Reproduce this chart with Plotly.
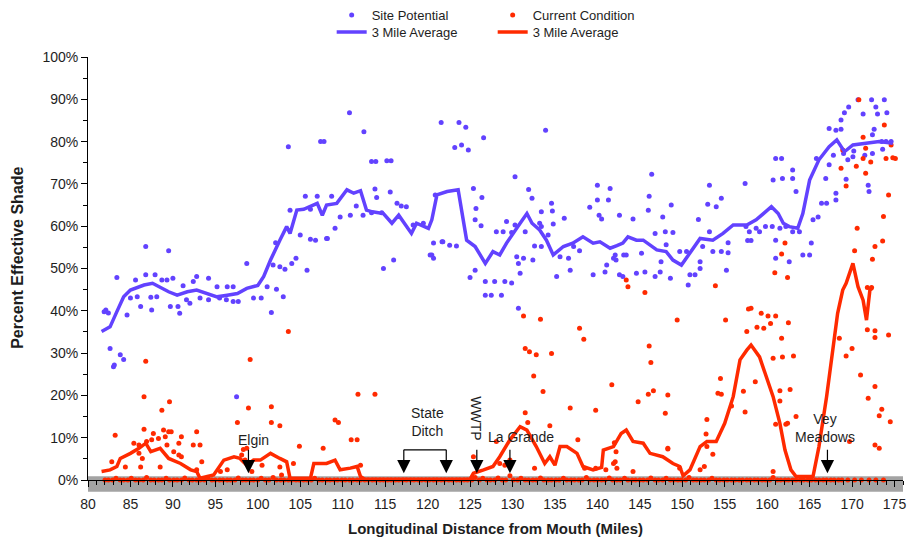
import plotly.graph_objects as go

# ---------------- data ----------------
# Site Potential (blue scatter points): mile, percent
sp_miles = [82.1, 81.9, 82.4, 82.6, 83.0, 83.1, 83.8, 84.2, 83.4, 84.6, 85.0, 85.8, 85.6, 86.8, 87.9, 86.8, 89.5,
            86.2, 87.4, 88.1, 87.5, 89.7, 90.6, 90.8, 88.7, 89.3, 90.0, 91.2, 91.6, 92.0, 92.8, 92.4, 94.2, 93.2,
            94.2, 95.2, 96.4, 97.1, 95.5, 96.3, 97.1, 97.7, 98.7, 99.5, 100.4, 101.1, 101.6, 102.2, 103.0, 101.8,
            102.6, 103.2, 104.0, 104.5, 105.8, 105.0, 106.2, 108.1, 109.1, 103.8, 109.7, 110.9, 112.4, 111.6, 106.2,
            103.6, 107.4, 107.8, 110.8, 112.5, 113.4, 113.9, 115.2, 115.7, 121.6, 105.6, 107.0, 108.7, 106.8, 102.1,
            108.2, 113.8, 114.0, 115.6, 113.4, 114.6, 116.4, 117.5, 116.0, 114.8, 120.5, 121.8, 118.3, 119.5, 120.9,
            123.7, 124.5, 126.6, 124.0, 124.8, 123.2, 133.9, 116.9, 125.4, 126.4, 125.7, 125.6, 126.3, 130.3, 131.9,
            132.3, 133.4, 134.6, 134.7, 140.0, 141.5, 140.0, 141.3, 139.1, 140.2, 140.5, 142.6, 144.2, 136.1, 129.3,
            130.3, 133.2, 133.4, 134.8, 120.7, 121.7, 122.6, 123.4, 128.1, 128.9, 129.9, 131.5, 134.2, 132.6, 133.4,
            120.3, 120.7, 125.6, 125.0, 126.8, 127.9, 129.1, 129.9, 126.8, 127.5, 128.7, 130.5, 131.3, 130.7, 130.9,
            132.4, 135.6, 136.6, 137.2, 137.9, 135.2, 136.8, 139.5, 140.9, 141.1, 141.9, 142.1, 143.1, 142.6, 144.6,
            130.7, 146.4, 146.1, 146.0, 148.7, 147.7, 146.8, 148.0, 148.9, 145.2, 143.4, 142.2, 143.0, 145.6, 146.8,
            147.4, 147.5, 148.1, 149.7, 150.5, 148.6, 150.9, 151.5, 152.1, 150.7, 151.9, 153.2, 153.0, 154.0, 154.6,
            152.4, 153.2, 153.6, 154.6, 155.4, 155.4, 155.2, 152.1, 157.4, 157.7, 158.1, 161.0, 161.7, 160.7, 161.8,
            163.0, 163.0, 163.4, 161.0, 161.0, 162.6, 164.2, 165.0, 165.2, 165.4, 166.0, 166.4, 167.0, 168.1, 168.1,
            165.8, 167.3, 166.9, 167.3, 168.1, 168.7, 168.7, 169.1, 169.6, 170.7, 172.3, 173.8, 171.3, 172.8, 173.0,
            174.1, 172.6, 172.4, 167.8, 169.0, 170.2, 171.5, 172.4, 169.5, 170.1, 169.3, 171.9, 172.0, 173.5, 174.0,
            174.6, 173.6, 97.5, 157.5, 158.7, 159.8, 160.6, 157.9, 159.1, 161.5, 162.2, 163.0, 163.8]
sp_pct = [40.2, 39.8, 39.5, 31.1, 26.8, 27.2, 29.6, 28.5, 47.9, 39.0, 43.0, 43.3, 47.3, 48.5, 48.5, 55.2, 54.2,
          41.0, 43.2, 43.3, 40.2, 41.0, 41.0, 39.4, 47.3, 47.3, 47.7, 45.9, 42.6, 41.8, 48.1, 46.9, 47.7, 43.0,
          42.6, 45.7, 45.7, 45.7, 43.0, 42.6, 42.2, 42.2, 51.2, 43.0, 43.0, 45.7, 39.6, 45.1, 43.3, 50.8,
          50.4, 49.8, 51.2, 52.4, 49.6, 57.9, 56.9, 57.1, 59.5, 63.8, 62.2, 62.6, 62.6, 64.8, 64.0,
          78.8, 80.0, 80.0, 86.8, 82.3, 75.3, 75.3, 75.5, 75.5, 84.5, 67.1, 67.1, 67.1, 56.7, 56.1,
          57.1, 68.8, 66.8, 68.1, 63.2, 63.2, 65.4, 64.6, 52.0, 50.0, 53.2, 56.3, 60.3, 60.7, 67.4,
          84.5, 83.4, 80.9, 79.2, 78.0, 78.6, 82.7, 64.8, 68.9, 66.8, 64.2, 61.5, 60.1, 71.7, 68.7,
          66.6, 63.4, 65.4, 63.6, 69.7, 68.9, 66.2, 66.2, 64.5, 62.6, 61.7, 62.6, 61.7, 61.9, 61.1,
          60.3, 60.7, 59.9, 60.5, 56.0, 56.3, 55.5, 55.3, 58.7, 58.7, 58.5, 58.7, 57.9, 55.3, 55.2,
          53.2, 52.4, 49.6, 47.9, 46.9, 46.9, 46.9, 46.6, 43.7, 43.7, 43.7, 52.8, 52.4, 51.2, 48.9,
          52.0, 52.8, 52.4, 55.2, 54.2, 48.1, 49.6, 48.5, 49.2, 50.8, 52.4, 53.2, 53.2, 48.5, 48.9,
          40.6, 72.3, 67.1, 63.8, 65.0, 62.2, 58.3, 58.7, 58.5, 53.6, 53.2, 52.0, 48.1, 49.2, 48.1,
          49.2, 51.6, 55.6, 54.0, 54.0, 47.7, 48.5, 48.5, 51.6, 46.1, 61.6, 69.7, 65.2, 64.6, 66.6,
          55.2, 58.7, 54.0, 54.0, 53.7, 56.1, 49.6, 50.0, 70.1, 56.6, 56.6, 76.0, 76.0, 70.9, 71.3,
          73.3, 71.3, 68.2, 56.7, 52.4, 51.6, 53.2, 53.2, 56.0, 61.5, 62.2, 65.4, 65.4, 67.8, 66.2,
          76.0, 74.5, 71.3, 83.1, 82.7, 82.9, 85.1, 86.8, 88.2, 89.9, 89.9, 89.9, 86.5, 88.2, 86.5,
          86.8, 82.9, 81.6, 76.8, 77.2, 77.8, 76.8, 77.2, 75.7, 76.4, 71.1, 69.7, 68.2, 80.0, 80.0,
          80.0, 78.2, 19.7, 59.9, 59.5, 59.9, 59.9, 58.7, 58.7, 59.5, 59.9, 58.7, 58.7]

# Site Potential 3 mile average (blue line)
spa_miles = [81.6, 82.6, 83.4, 84.2, 85.0, 86.6, 87.6, 88.3, 89.5, 90.5, 91.7, 92.8, 94.0, 95.2, 96.4, 97.6, 98.7,
             100.0, 100.7, 101.5, 102.6, 103.4, 103.8, 104.6, 105.4, 106.2, 107.0, 107.6, 108.1, 109.3, 110.5,
             111.3, 112.1, 112.8, 113.5, 114.8, 115.8, 116.6, 117.3, 118.1, 118.7, 120.1, 120.5, 121.1, 122.3,
             123.6, 124.6, 125.6, 126.8, 127.7, 128.5, 129.3, 130.9, 131.7, 132.3, 133.2, 134.0, 134.8, 136.0,
             137.1, 138.3, 139.5, 140.3, 141.5, 142.3, 143.0, 143.6, 144.6, 145.4, 147.0, 148.1, 148.9, 149.9,
             150.9, 152.1, 153.6, 154.8, 156.0, 157.6, 158.7, 159.5, 160.5, 161.3, 161.9, 162.6, 163.6, 164.2,
             165.0, 166.1, 167.3, 168.2, 169.1, 170.1, 171.7, 173.2, 174.8]
spa_pct = [35.1, 36.2, 39.8, 43.3, 44.9, 46.1, 46.5, 45.7, 44.5, 43.7, 44.5, 44.9, 44.1, 43.3, 43.7, 44.1, 45.3,
           46.0, 48.1, 52.0, 56.7, 59.9, 58.3, 63.8, 64.0, 64.6, 65.4, 62.6, 65.0, 65.4, 68.6,
           67.8, 68.4, 63.8, 63.4, 63.0, 60.7, 62.6, 60.5, 58.3, 60.7, 59.5, 61.5, 67.4, 68.2,
           68.6, 56.7, 55.2, 51.2, 54.0, 53.2, 56.0, 60.7, 63.0, 60.7, 59.1, 56.7, 53.2, 55.2,
           56.0, 57.5, 56.0, 56.3, 54.8, 55.4, 56.0, 57.5, 56.7, 56.7, 54.4, 54.0, 52.0, 50.8,
           53.6, 57.1, 56.7, 58.3, 60.3, 60.3, 61.5, 63.0, 64.6, 63.0, 60.7, 59.9, 59.5, 63.0,
           70.9, 75.7, 78.8, 80.4, 77.6, 79.2, 79.6, 80.0, 79.6]

# Current Condition (red scatter points above zero)
cc_miles = [83.2, 86.6, 88.7, 89.6, 87.7, 88.9, 89.5, 89.8, 88.3, 89.1, 86.9, 87.5, 85.4, 86.0, 89.3, 90.7, 91.0,
            92.8, 92.4, 93.2, 90.1, 90.7, 86.0, 86.4, 82.8, 84.4, 86.2, 88.5, 91.0, 93.4, 92.8, 97.6, 98.9, 101.6,
            101.6, 102.6, 98.3, 98.7, 98.1, 98.5, 99.3, 95.6, 96.4, 100.5, 102.6, 102.8, 104.2, 104.9, 107.7, 109.1,
            109.5, 111.0, 111.7, 112.1, 111.8, 113.8, 86.6, 86.8, 99.1, 103.6, 131.3, 133.3, 137.9, 138.4, 149.4,
            131.5, 132.0, 132.8, 134.6, 146.1, 146.3, 132.5, 133.6, 141.7, 146.0, 146.6, 144.8, 148.3, 136.8, 139.8,
            148.0, 131.5, 131.8, 134.4, 137.7, 128.1, 148.3, 125.4, 128.5, 129.1, 129.7, 132.6, 141.9, 142.3, 138.5,
            139.8, 149.7, 143.4, 143.6, 161.7, 160.9, 162.4, 170.3, 172.4, 145.6, 153.9, 155.1, 158.1, 157.8, 159.3,
            160.1, 161.0, 160.4, 157.6, 158.8, 159.6, 162.5, 161.7, 160.7, 161.8, 163.1, 158.6, 154.5, 154.2, 154.6,
            157.2, 161.5, 162.7, 161.5, 155.8, 157.4, 152.9, 161.0, 162.2, 163.4, 152.8, 153.6, 148.3, 142.1, 141.0,
            152.1, 152.6, 160.7, 144.2, 168.5, 170.0, 169.3, 171.8, 172.7, 172.7, 174.3, 171.0, 172.7, 171.9, 173.5,
            173.2, 174.5, 172.7, 173.2, 170.8, 173.8, 171.3, 171.6, 168.9, 171.3, 172.2, 174.0, 174.8, 175.1, 174.6,
            170.5, 168.7, 171.6, 169.3, 174.3, 170.6, 173.7, 172.7, 173.6, 162.1, 171.8, 172.3, 169.7, 142.0, 142.2,
            162.4, 152.9]
cc_pct = [10.6, 12.0, 16.5, 18.5, 11.0, 11.8, 11.4, 11.4, 9.8, 10.2, 9.1, 9.5, 8.7, 8.3, 8.3, 8.7, 10.2,
          11.4, 8.3, 8.3, 6.7, 5.9, 6.3, 5.1, 4.3, 3.1, 3.1, 3.1, 5.5, 4.3, 2.4, 13.6, 17.0, 17.3,
          13.6, 12.8, 7.2, 7.5, 5.9, 4.7, 2.0, 2.0, 2.4, 3.5, 3.1, 1.2, 3.9, 8.0, 7.5, 14.2,
          13.6, 9.5, 9.5, 3.5, 20.3, 20.3, 19.7, 28.1, 28.5, 35.1, 38.8, 38.0, 35.9, 33.3, 37.8,
          31.1, 30.3, 29.6, 29.9, 31.7, 27.8, 24.6, 20.9, 22.5, 20.3, 21.1, 18.5, 20.1, 17.0, 16.5,
          15.8, 15.9, 13.6, 12.8, 9.5, 9.1, 7.5, 5.5, 3.9, 3.5, 4.7, 2.8, 3.9, 2.8, 2.8,
          2.8, 2.8, 47.3, 45.7, 53.4, 49.0, 47.9, 54.2, 52.2, 44.3, 45.9, 37.8, 40.6, 40.4, 39.4,
          38.8, 38.8, 37.0, 35.1, 36.1, 35.9, 37.2, 33.5, 28.8, 29.1, 29.3, 23.2, 24.0, 20.5, 20.3,
          21.0, 21.1, 21.4, 18.7, 17.5, 16.1, 14.3, 13.2, 13.2, 15.0, 10.9, 6.1, 7.3, 4.3, 2.4,
          2.4, 3.2, 2.0, 2.0, 33.5, 31.1, 29.3, 35.5, 35.3, 33.7, 34.3, 24.8, 22.1, 19.3, 16.7,
          15.2, 13.8, 8.3, 7.5, 89.9, 83.9, 81.0, 78.4, 78.0, 76.0, 75.2, 76.0, 76.2, 76.0, 79.2,
          74.2, 73.7, 72.5, 69.5, 67.4, 59.5, 62.3, 55.2, 56.5, 56.0, 45.5, 45.5, 9.1, 8.8, 6.7,
          13.4, 7.9]

# Current Condition points lying on / just above zero
cz_miles = [82.0, 82.4, 82.9, 83.3, 83.8, 84.2, 84.7, 85.1, 85.6, 86.0, 86.5, 86.9, 87.4, 87.8, 88.3, 88.7, 89.2,
            89.6, 90.1, 90.5, 91.0, 91.4, 91.9, 92.3, 92.8, 93.2, 93.7, 94.1, 94.6, 95.0, 95.5, 95.9, 96.4, 96.8,
            97.3, 97.7, 98.2, 98.6, 99.1, 99.5, 100.0, 100.4, 100.9, 101.3, 101.8, 102.2, 102.7, 103.1, 103.6,
            104.0, 104.5, 104.9, 105.4, 105.8, 106.3, 106.7, 107.2, 107.6, 108.1, 108.5, 109.0, 109.4, 109.9,
            110.3, 110.8, 111.2, 111.7, 112.1, 112.6, 113.0, 113.5, 113.9, 114.4, 114.8, 115.3, 115.7, 116.2,
            116.6, 117.1, 117.5, 118.0, 118.4, 118.9, 119.3, 119.8, 120.2, 120.7, 121.1, 121.6, 122.0, 122.5,
            122.9, 123.4, 123.8, 124.3, 124.7, 125.2, 125.6, 126.1, 126.5, 127.0, 127.4, 127.9, 128.3, 128.8,
            129.2, 129.7, 130.1, 130.6, 131.0, 131.5, 131.9, 132.4, 132.8, 133.3, 133.7, 134.2, 134.6, 135.1,
            135.5, 136.0, 136.4, 136.9, 137.3, 137.8, 138.2, 138.7, 139.1, 139.6, 140.0, 140.5, 140.9, 141.4,
            141.8, 142.3, 142.7, 143.2, 143.6, 144.1, 144.5, 145.0, 145.4, 145.9, 146.3, 146.8, 147.2, 147.7,
            148.1, 148.6, 149.0, 149.5, 149.9, 150.4, 150.8, 151.3, 151.7, 152.2, 152.6, 153.1, 153.5, 154.0,
            154.4, 154.9, 155.3, 155.8, 156.2, 156.7, 157.1, 157.6, 158.0, 158.5, 158.9, 159.4, 159.8, 160.3,
            160.7, 161.2, 161.6, 162.1, 162.5, 163.0, 163.4, 163.9, 164.3, 164.8, 165.2, 165.7, 166.1, 166.6,
            167.0, 167.5, 167.9, 168.4, 168.8, 169.5, 170.3, 171.1, 172.0, 172.8, 173.7]
cz_pct = [0.0, 0.0, 0.0, 0.4, 0.0, 0.0, 0.0, 0.4, 0.0, 0.0, 0.0, 0.6, 0.0, 0.0, 0.0, 0.0, 0.4,
          0.0, 0.0, 0.0, 0.0, 0.5, 0.0, 0.0, 0.0, 0.0, 0.0, 0.4, 0.0, 0.0, 0.0, 0.0, 0.0, 0.0,
          0.0, 0.5, 0.0, 0.0, 0.0, 0.0, 0.0, 0.4, 0.0, 0.0, 0.6, 0.0, 0.0, 0.0, 0.0,
          0.0, 0.0, 0.0, 0.0, 0.0, 0.0, 0.4, 0.0, 0.0, 0.0, 0.0, 0.0, 0.0, 0.0,
          0.0, 0.0, 0.0, 0.0, 0.0, 0.0, 0.0, 0.0, 0.0, 0.0, 0.0, 0.0, 0.0, 0.0,
          0.0, 0.0, 0.0, 0.0, 0.0, 0.0, 0.0, 0.0, 0.0, 0.0, 0.0, 0.0, 0.0, 0.0,
          0.0, 0.0, 0.0, 0.0, 0.0, 0.0, 0.6, 0.0, 0.4, 0.0, 0.0, 0.0, 0.5, 0.0,
          0.0, 1.0, 0.0, 0.0, 0.4, 0.0, 0.0, 0.0, 0.0, 0.5, 0.0, 0.0, 0.0, 0.0,
          0.0, 0.4, 0.0, 0.0, 0.0, 0.0, 0.0, 0.6, 0.0, 0.0, 0.0, 0.0, 0.0, 0.5,
          0.0, 0.0, 0.0, 0.4, 0.0, 0.0, 0.0, 0.0, 0.0, 0.0, 0.5, 0.0, 0.0, 0.0,
          0.4, 0.0, 0.0, 0.0, 0.0, 0.0, 0.6, 0.0, 0.0, 0.0, 0.0, 0.0, 0.4, 0.0,
          0.0, 0.0, 0.0, 0.0, 0.0, 0.0, 0.0, 0.0, 0.0, 0.0, 0.0, 0.0, 0.0, 0.0,
          0.6, 0.0, 0.0, 0.0, 0.0, 0.0, 0.0, 0.0, 0.0, 0.0, 0.0, 0.0, 0.0, 0.0,
          0.0, 0.0, 0.0, 0.0, 0.0, 0.0, 0.0, 0.0, 0.0, 0.0, 0.0]

# Current Condition 3 mile average (red line)
cca_miles = [81.6, 82.6, 83.4, 83.8, 85.0, 86.0, 86.8, 87.4, 88.5, 89.5, 90.9, 92.1, 92.8, 93.2, 94.8, 96.0, 97.2,
             97.9, 98.7, 99.5, 100.3, 101.5, 102.6, 103.4, 103.8, 106.2, 106.6, 108.1, 109.1, 109.7, 110.9, 111.7,
             112.1, 112.6, 125.0, 125.4, 126.6, 127.7, 128.5, 129.7, 130.9, 131.7, 132.8, 133.8, 134.4, 135.0,
             135.6, 136.4, 137.6, 138.3, 139.5, 140.5, 140.7, 141.9, 142.8, 143.4, 144.2, 145.4, 146.2, 147.7,
             148.9, 149.7, 150.1, 150.9, 152.1, 152.9, 154.0, 155.0, 156.0, 156.8, 157.6, 158.1, 159.1, 159.9,
             160.7, 161.5, 162.1, 162.8, 163.4, 165.4, 166.1, 167.0, 167.7, 168.3, 168.9, 169.3, 170.1, 170.7,
             171.3, 171.7, 172.1, 172.4]
cca_pct = [2.0, 2.4, 3.2, 5.1, 6.3, 7.5, 8.7, 6.7, 7.5, 5.1, 3.9, 2.4, 2.0, 0.4, 1.2, 4.7, 5.5,
           5.1, 3.5, 4.7, 4.7, 6.3, 5.1, 4.3, 0.4, 0.4, 3.9, 3.9, 4.7, 2.4, 2.8, 3.2,
           0.8, 0.2, 0.2, 1.6, 2.4, 3.2, 5.5, 9.5, 12.6, 11.8, 7.9, 3.9, 5.5, 3.5,
           7.9, 7.9, 6.3, 3.2, 2.4, 3.0, 7.1, 7.9, 11.0, 11.8, 9.1, 8.7, 6.3, 5.5,
           3.9, 3.2, 1.0, 2.4, 7.9, 9.1, 9.1, 13.4, 19.7, 28.4, 30.7, 31.9, 29.1, 24.4,
           19.7, 13.4, 7.1, 2.4, 0.8, 0.8, 7.9, 19.7, 30.7, 39.4, 44.9, 46.5, 51.2, 45.7,
           42.5, 37.8, 44.9, 45.3]

# Landmarks: label, arrow mile
landmark_names = ["Elgin", "State<br>Ditch", "WWTP", "La Grande", "Vey<br>Meadows"]
landmark_arrow_miles = [[98.9], [117.2, 122.2], [125.8], [129.7], [167.1]]

x_ticks = [80, 85, 90, 95, 100, 105, 110, 115, 120, 125, 130, 135, 140, 145, 150, 155, 160, 165, 170, 175]
y_ticks = [0, 10, 20, 30, 40, 50, 60, 70, 80, 90, 100]
y_tick_text = [f"{v}%" for v in y_ticks]

# ---------------- styling ----------------
BLUE = "#6242FF"
RED = "#FF2A00"
FONT = "Liberation Sans, Arial, Helvetica, sans-serif"
TXT = "#1e1e1e"

fig = go.Figure()

fig.add_trace(go.Scatter(x=sp_miles, y=sp_pct, mode="markers", name="Site Potential",
                         marker=dict(color=BLUE, size=5, symbol="circle"),
                         cliponaxis=False, legend="legend"))
fig.add_trace(go.Scatter(x=cc_miles, y=cc_pct, mode="markers", name="Current Condition",
                         marker=dict(color=RED, size=5, symbol="circle"), legendgroup="cc",
                         cliponaxis=False, legend="legend"))
fig.add_trace(go.Scatter(x=cz_miles, y=cz_pct, mode="markers", name="Current Condition",
                         marker=dict(color=RED, size=5, symbol="circle"), legendgroup="cc",
                         showlegend=False, cliponaxis=False))
fig.add_trace(go.Scatter(x=spa_miles, y=spa_pct, mode="lines", name="3 Mile Average",
                         line=dict(color=BLUE, width=3.5), cliponaxis=False, legend="legend2"))
fig.add_trace(go.Scatter(x=cca_miles, y=cca_pct, mode="lines", name="3 Mile Average",
                         line=dict(color=RED, width=3.5), cliponaxis=False, legend="legend2"))

# gray band under the x axis
fig.add_shape(type="rect", xref="x", yref="paper", x0=80, x1=176, y0=-0.028, y1=0.009,
              fillcolor="#a3a3a3", line=dict(width=0), layer="below")

# landmark labels and arrows
label_pos = {
    "Elgin": (99.5, 9.5, 0),
    "State<br>Ditch": (120.0, 13.6, 0),
    "WWTP": (125.75, 14.5, 90),
    "La Grande": (131.0, 10.2, 0),
    "Vey<br>Meadows": (166.8, 12.2, 0),
}
for name, arrows in zip(landmark_names, landmark_arrow_miles):
    lx, ly, ang = label_pos[name]
    fig.add_annotation(x=lx, y=ly, text=name, showarrow=False, textangle=ang,
                       font=dict(family=FONT, size=14, color=TXT), xanchor="center", yanchor="middle")
    for am in arrows:
        fig.add_annotation(x=am, y=1.6, ax=0, ay=-25, text="", showarrow=True,
                           arrowhead=2, arrowsize=2.2, arrowwidth=1.2, arrowcolor="#000")
# bracket over State Ditch arrows
fig.add_shape(type="line", xref="x", yref="y", x0=117.2, x1=122.2, y0=7.1, y1=7.1,
              line=dict(color="#000", width=1.3))

# y-axis title (placed as a rotated label left of the tick labels)
fig.add_annotation(xref="paper", yref="paper", x=-0.086, y=0.525, xanchor="center", yanchor="middle",
                   text="<b>Percent Effective Shade</b>", textangle=-90, showarrow=False,
                   font=dict(family=FONT, size=16, color=TXT))

fig.update_layout(
    width=914, height=541,
    margin=dict(l=88, r=11, t=57, b=61, autoexpand=False),
    paper_bgcolor="white", plot_bgcolor="white",
    font=dict(family=FONT, size=13, color=TXT),
    legend=dict(orientation="h", x=0.299, xanchor="left", yref="container", y=1 - 0 / 541,
                yanchor="top", entrywidth=116, font=dict(size=13), bgcolor="rgba(0,0,0,0)",
                itemwidth=30, tracegroupgap=0),
    legend2=dict(orientation="h", x=0.299, xanchor="left", yref="container", y=1 - 17 / 541,
                 yanchor="top", entrywidth=116, font=dict(size=13), bgcolor="rgba(0,0,0,0)",
                 itemwidth=30),
    xaxis=dict(range=[80, 176], tickvals=x_ticks, showgrid=False, zeroline=False, automargin=False,
               showline=True, linecolor="#000", linewidth=1, ticks="outside", ticklen=6,
               tickcolor="#000", tickfont=dict(size=14), ticklabelstandoff=5,
               minor=dict(dtick=1, ticks="outside", ticklen=4, tickcolor="#000", showgrid=False),
               title=dict(text="<b>Longitudinal Distance from Mouth (Miles)</b>",
                          font=dict(size=15), standoff=12)),
    yaxis=dict(range=[0, 100], tickvals=y_ticks, ticktext=y_tick_text, showgrid=False, automargin=False,
               zeroline=False, showline=True, linecolor="#000", linewidth=1, ticks="outside",
               ticklen=6, tickcolor="#000", tickfont=dict(size=14),
               minor=dict(dtick=5, ticks="outside", ticklen=4, tickcolor="#000", showgrid=False)),
)

fig.write_html("out.html")
